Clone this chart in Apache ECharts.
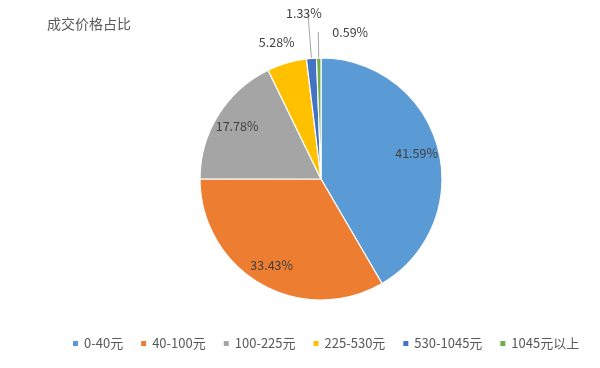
<!DOCTYPE html>
<html>
<head>
<meta charset="utf-8">
<script src="https://cdn.jsdelivr.net/npm/echarts@6/dist/echarts.min.js"></script>
<style>html,body{margin:0;padding:0;background:#fff;}#c{width:600px;height:368px;}</style>
</head>
<body>
<div id="c"></div>
<script>
var titleText = '成交价格占比';
var categories = ['0-40元', '40-100元', '100-225元', '225-530元', '530-1045元', '1045元以上'];
var values = [41.59, 33.43, 17.78, 5.28, 1.33, 0.59];
var colors = ['#5B9BD5', '#ED7D31', '#A5A5A5', '#FFC000', '#4472C4', '#70AD47'];
var insideLabelled = [true, true, true, false, false, false];

var FONT = '"Noto Sans CJK SC", "Noto Sans", sans-serif';
var center = [321, 179];

var outsideCfg = {
  3: { len: 22, len2: 0, line: false },
  4: { len: 45, len2: 0, line: true },
  5: { len: 26, len2: 0, line: true }
};

var mainData = categories.map(function (name, i) {
  var item = { name: name, value: values[i], itemStyle: { color: colors[i] } };
  if (outsideCfg[i]) {
    item.label = { show: true, position: 'outside' };
    item.labelLine = { show: outsideCfg[i].line, length: outsideCfg[i].len, length2: outsideCfg[i].len2 };
  } else {
    item.label = { show: false };
    item.labelLine = { show: false };
  }
  return item;
});

var overlayData = categories.map(function (name, i) {
  return { name: name, value: values[i], label: { show: insideLabelled[i] } };
});

var chart = echarts.init(document.getElementById('c'), null, { renderer: 'canvas' });
chart.setOption({
  animation: false,
  backgroundColor: '#ffffff',
  title: {
    text: titleText,
    left: 42, top: 12,
    textStyle: { fontFamily: FONT, fontSize: 14, fontWeight: 'normal', color: '#595959' }
  },
  legend: {
    bottom: 13,
    left: 66,
    icon: 'rect',
    itemWidth: 7, itemHeight: 7, itemGap: 16,
    data: categories,
    textStyle: { fontFamily: FONT, fontSize: 13, color: '#595959' }
  },
  series: [
    {
      type: 'pie',
      center: center,
      radius: [0, 121],
      startAngle: 90,
      clockwise: true,
      avoidLabelOverlap: false,
      silent: true,
      itemStyle: { borderColor: '#ffffff', borderWidth: 1.2 },
      label: {
        fontFamily: FONT, fontSize: 12.5, color: '#404040',
        formatter: function (p) { return p.value.toFixed(2) + '%'; },
        distanceToLabelLine: 0
      },
      labelLine: { lineStyle: { color: '#A6A6A6', width: 1 }, smooth: false },
      labelLayout: function (p) {
        if (p.dataIndex === 3) return { dx: 14, dy: 0 };
        if (p.dataIndex === 4) return { align: 'center', dx: -4, dy: 0 };
        if (p.dataIndex === 5) return { align: 'left', dx: 14, dy: 0 };
        return {};
      },
      data: mainData
    },
    {
      type: 'pie',
      center: center,
      radius: [0, 192],
      startAngle: 90,
      clockwise: true,
      silent: true,
      avoidLabelOverlap: false,
      itemStyle: { color: 'rgba(0,0,0,0)', borderWidth: 0 },
      emphasis: { disabled: true },
      label: {
        position: 'inside',
        fontFamily: FONT, fontSize: 12.5, color: '#404040',
        formatter: function (p) { return p.value.toFixed(2) + '%'; }
      },
      labelLine: { show: false },
      data: overlayData
    }
  ]
});
</script>
</body>
</html>
